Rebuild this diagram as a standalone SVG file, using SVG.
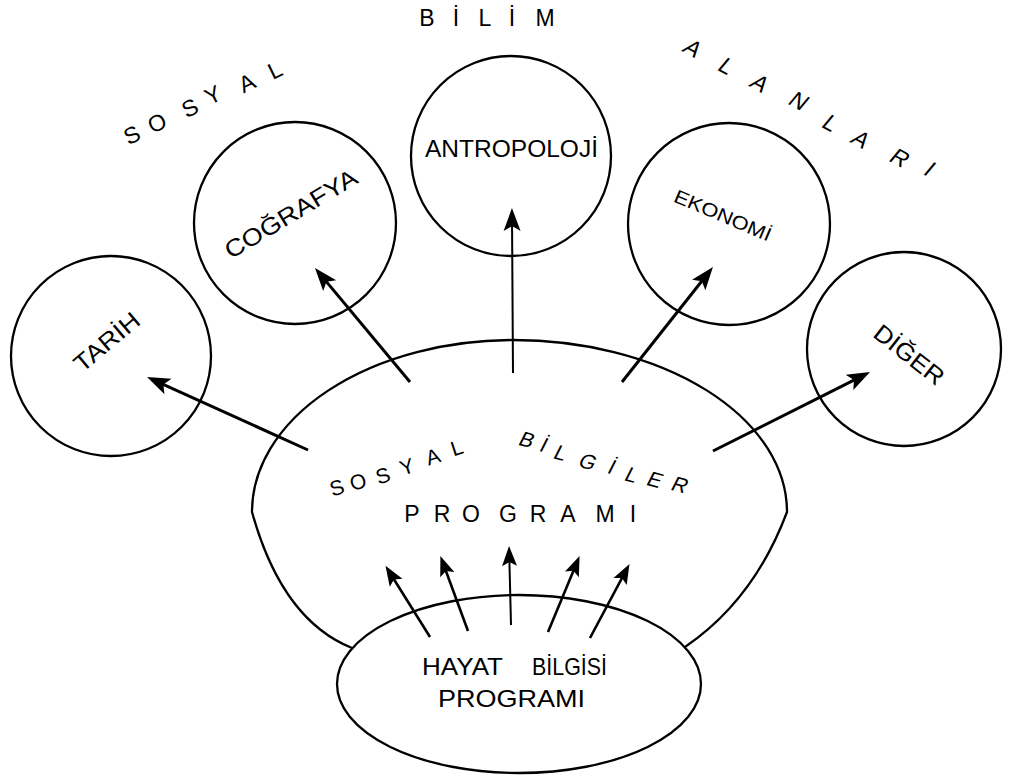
<svg xmlns="http://www.w3.org/2000/svg" width="1009" height="780" viewBox="0 0 1009 780">
<style>
.shape{fill:none;stroke:#000;stroke-width:2.3}
.big{stroke:#000;stroke-width:3;fill:none;marker-end:url(#ah)}
.thin{stroke:#000;stroke-width:2;fill:none;marker-end:url(#ah)}
.small{stroke:#000;stroke-width:2.6;fill:none;marker-end:url(#as)}
text{font-family:"Liberation Sans",Arial,sans-serif;fill:#000}
.lbl{font-size:24px;text-anchor:middle}
.arc{font-size:21px;text-anchor:middle}
.top{font-size:23px;text-anchor:middle}
</style>
<defs>
<marker id="ah" markerUnits="userSpaceOnUse" markerWidth="40" markerHeight="40" viewBox="-30 -20 40 40" refX="0" refY="0" orient="auto" overflow="visible">
<path d="M8,0 L-15,-8.5 L-10,0 L-15,8.5 Z" fill="#000"/>
</marker>
<marker id="as" markerUnits="userSpaceOnUse" markerWidth="40" markerHeight="40" viewBox="-30 -20 40 40" refX="0" refY="0" orient="auto" overflow="visible">
<path d="M7,0 L-13,-7.5 L-9,0 L-13,7.5 Z" fill="#000"/>
</marker>
</defs>
<rect width="1009" height="780" fill="#fff"/>

<g id="title-bilim">
<text class="top" x="427 456 485 512 545" y="26">BİLİM</text>
</g>
<g id="title-sosyal">
<text class="top" transform="translate(132,135) rotate(-26)" y="8">S</text>
<text class="top" transform="translate(157,123) rotate(-26)" y="8">O</text>
<text class="top" transform="translate(190,108) rotate(-26)" y="8">S</text>
<text class="top" transform="translate(213,95) rotate(-26)" y="8">Y</text>
<text class="top" transform="translate(247,83) rotate(-26)" y="8">A</text>
<text class="top" transform="translate(275,70) rotate(-26)" y="8">L</text>
</g>
<g id="title-alanlari">
<text class="top" transform="translate(693,48) rotate(28) skewX(-12)" y="8">A</text>
<text class="top" transform="translate(727,66) rotate(28) skewX(-12)" y="8">L</text>
<text class="top" transform="translate(760,83) rotate(28) skewX(-12)" y="8">A</text>
<text class="top" transform="translate(799,101) rotate(28) skewX(-12)" y="8">N</text>
<text class="top" transform="translate(831,123) rotate(28) skewX(-12)" y="8">L</text>
<text class="top" transform="translate(861,139) rotate(28) skewX(-12)" y="8">A</text>
<text class="top" transform="translate(900,158) rotate(28) skewX(-12)" y="8">R</text>
<text class="top" transform="translate(930,169) rotate(28) skewX(-12)" y="8">I</text>
</g>

<g id="node-tarih">
<circle class="shape" cx="111" cy="356" r="100"/>
<text class="lbl" transform="translate(107,342) rotate(-40)" y="8" textLength="78" lengthAdjust="spacingAndGlyphs">TARİH</text>
</g>
<g id="node-cografya">
<circle class="shape" cx="295" cy="223" r="101"/>
<text class="lbl" transform="translate(291,214) rotate(-31)" y="8" textLength="150" lengthAdjust="spacingAndGlyphs">COĞRAFYA</text>
</g>
<g id="node-antropoloji">
<circle class="shape" cx="511" cy="156" r="100"/>
<text class="lbl" x="511.5" y="157" textLength="173" lengthAdjust="spacingAndGlyphs">ANTROPOLOJİ</text>
</g>
<g id="node-ekonomi">
<circle class="shape" cx="729" cy="224" r="101"/>
<text class="lbl" style="font-size:19px" transform="translate(723,215) rotate(23)" y="7" textLength="104" lengthAdjust="spacingAndGlyphs">EKONOMİ</text>
</g>
<g id="node-diger">
<circle class="shape" cx="904" cy="349" r="97"/>
<text class="lbl" transform="translate(909,355) rotate(38)" y="8" textLength="82" lengthAdjust="spacingAndGlyphs">DİĞER</text>
</g>

<g id="node-sosyal-bilgiler">
<path class="shape" d="M352,648 Q282,620 252,512 A261,172 0 0 1 513,340 A274,172 0 0 1 787,512 Q754,600 685,647"/>
<text class="arc" transform="translate(337,488) rotate(-18)" y="7">S</text>
<text class="arc" transform="translate(358,482) rotate(-18)" y="7">O</text>
<text class="arc" transform="translate(383,476) rotate(-18)" y="7">S</text>
<text class="arc" transform="translate(407,467) rotate(-18)" y="7">Y</text>
<text class="arc" transform="translate(433,457) rotate(-18)" y="7">A</text>
<text class="arc" transform="translate(457,448) rotate(-18)" y="7">L</text>
<text class="arc" transform="translate(527,440) rotate(15) skewX(-12)" y="7">B</text>
<text class="arc" transform="translate(544,445) rotate(15) skewX(-12)" y="7">İ</text>
<text class="arc" transform="translate(561,453) rotate(15) skewX(-12)" y="7">L</text>
<text class="arc" transform="translate(588,462) rotate(15) skewX(-12)" y="7">G</text>
<text class="arc" transform="translate(612,467) rotate(15) skewX(-12)" y="7">İ</text>
<text class="arc" transform="translate(632,475) rotate(15) skewX(-12)" y="7">L</text>
<text class="arc" transform="translate(655,480) rotate(15) skewX(-12)" y="7">E</text>
<text class="arc" transform="translate(680,485) rotate(15) skewX(-12)" y="7">R</text>
<text style="font-size:23px;text-anchor:middle" x="412 442 471 508 538 568 605 633" y="522">PROGRAMI</text>
</g>

<g id="node-hayat-bilgisi">
<ellipse class="shape" cx="519" cy="684" rx="182" ry="89"/>
<text style="font-size:24px" x="422" y="675" textLength="81" lengthAdjust="spacingAndGlyphs">HAYAT</text>
<text style="font-size:24px" x="532" y="675" textLength="75" lengthAdjust="spacingAndGlyphs">BİLGİSİ</text>
<text style="font-size:24px" x="438" y="707" textLength="147" lengthAdjust="spacingAndGlyphs">PROGRAMI</text>
</g>

<g id="connectors">
<line class="big" x1="308" y1="450" x2="154.3" y2="380.3"/>
<line class="big" x1="410" y1="382" x2="320.1" y2="274.1"/>
<line class="thin" x1="513" y1="373" x2="512" y2="216"/>
<line class="big" x1="622" y1="382" x2="708" y2="273.3"/>
<line class="big" x1="713" y1="451" x2="862.9" y2="375.6"/>
<line class="small" x1="430" y1="637" x2="389.2" y2="571.8"/>
<line class="small" x1="468" y1="631" x2="442.8" y2="562.5"/>
<line class="small" style="stroke-width:2" x1="511" y1="625" x2="509.2" y2="553"/>
<line class="small" x1="548" y1="632" x2="576.9" y2="562.4"/>
<line class="small" x1="590" y1="638" x2="626.2" y2="570.1"/>
</g>
</svg>
